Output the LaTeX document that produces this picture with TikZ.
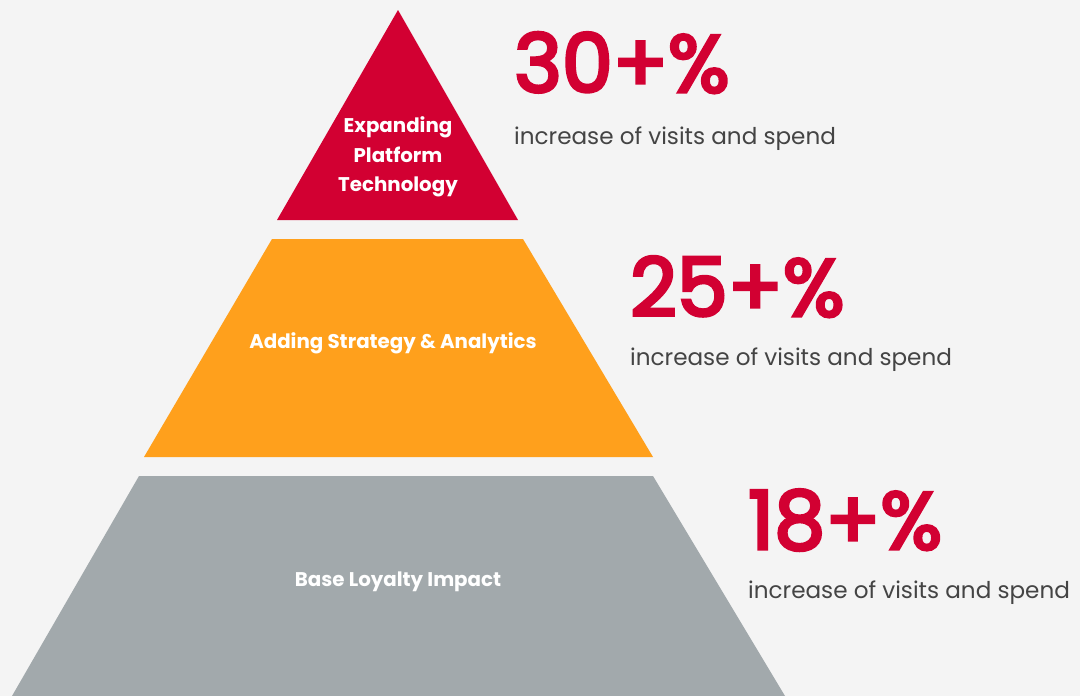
\documentclass[tikz,border=0pt]{standalone}
\usepackage{fontspec}
\setmainfont{Poppins}
\newfontfamily\pctfont{Poppins}[FakeBold=4]
\usetikzlibrary{positioning}
\definecolor{tipred}{HTML}{D20032}
\definecolor{midorange}{HTML}{FFA01C}
\definecolor{basegray}{HTML}{A2A9AC}
\definecolor{backgray}{HTML}{F4F4F4}
\definecolor{subgray}{HTML}{444444}
\begin{document}
\begin{tikzpicture}
[
x=1pt, y=-1pt,
level/.style={white, font=\bfseries\fontsize{19.8}{29.5}\selectfont, align=center, inner sep=0pt},
pct/.style={tipred, font=\pctfont\fontsize{81}{81}\selectfont, anchor=base west, inner sep=0pt},
sub/.style={subgray, font=\fontsize{23.1}{28}\selectfont, anchor=base west, inner sep=0pt}
]
%Background
\fill[backgray] (0,0) rectangle (1080,696);
\useasboundingbox (0,0) rectangle (1080,696);

%Tiers
\fill[tipred]     (398,10) -- (518,220) -- (277,220) -- cycle;
\fill[midorange]  (272,239) -- (523,239) -- (653,457) -- (144,457) -- cycle;
\fill[basegray]   (139,476) -- (653,476) -- (785,696) -- (12,696) -- cycle;

%Nodes
\node[level]  (tip_lbl)  at (398,157)  {Expanding\\Platform\\Technology};
\node[level]  (mid_lbl)  at (393,343)  {Adding Strategy \& Analytics};
\node[level]  (base_lbl) at (398,582)  {Base Loyalty Impact};

\node[pct]    (tip_pct)  at (514,92)   {30+\%};
\node[sub]    (tip_sub)  at ([yshift=-52pt]tip_pct.base west)  {increase of visits and spend};
\node[pct]    (mid_pct)  at (630,316)  {25+\%};
\node[sub]    (mid_sub)  at ([yshift=-49pt]mid_pct.base west)  {increase of visits and spend};
\node[pct]    (base_pct) at (748,549)  {18+\%};
\node[sub]    (base_sub) at ([yshift=-49pt]base_pct.base west) {increase of visits and spend};
\end{tikzpicture}
\end{document}
